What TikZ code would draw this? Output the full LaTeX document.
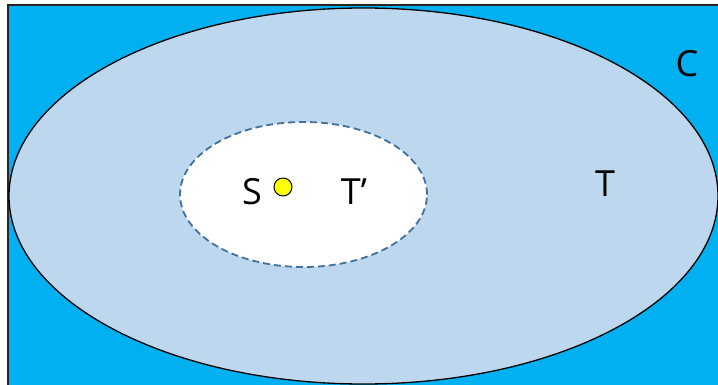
\documentclass[tikz,border=0pt]{standalone}
\usepackage{fontspec}
\setmainfont{Open Sans}
\definecolor{bgblue}{HTML}{00B0F0}
\definecolor{lightblue}{HTML}{BDD7EE}
\definecolor{dashblue}{HTML}{41719C}
\definecolor{dotyellow}{HTML}{FFFF00}
\tikzset{
  lbl/.style={font=\fontsize{36}{40}\selectfont, text=black, inner sep=0pt},
}
\begin{document}
\begin{tikzpicture}[x=1pt,y=-1pt]
\useasboundingbox (0,0) rectangle (718,385);
\clip (0,0) rectangle (718,385);
\draw[fill=bgblue, draw=black!85, line width=1.5pt] (8,5) rectangle (740,400);
\draw[fill=lightblue, draw=black, line width=1.3pt] (363.5,196) ellipse [x radius=354.5pt, y radius=188pt];
\draw[fill=white, draw=dashblue, line width=1.8pt, dash pattern=on 7pt off 4pt] (303.5,194.5) ellipse [x radius=123.5pt, y radius=72.5pt];
\node[circle, fill=dotyellow, draw=black, line width=1pt, minimum size=18pt, inner sep=0pt] (dot) at (283,187) {};
\node[lbl] (S) at (252,192) {S};
\node[lbl] (Tp) at (354,192) {T’};
\node[lbl] (T) at (605,184) {T};
\node[lbl] (C) at (687,64) {C};
\end{tikzpicture}
\end{document}
